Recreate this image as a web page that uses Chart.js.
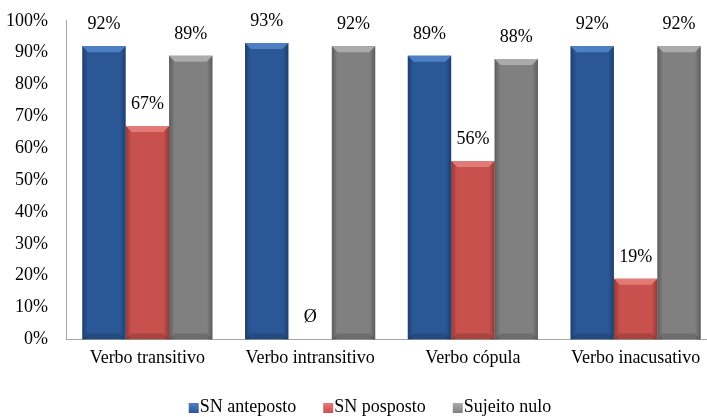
<!DOCTYPE html>
<html>
<head>
<meta charset="utf-8">
<script src="https://cdn.jsdelivr.net/npm/chart.js@4.4.1/dist/chart.umd.min.js"></script>
<style>
  html, body { margin: 0; padding: 0; background: #ffffff; overflow: hidden; }
  canvas { display: block; }
</style>
</head>
<body>
<canvas id="chart" width="740" height="417"></canvas>
<script>
const categories = ["Verbo transitivo", "Verbo intransitivo", "Verbo cópula", "Verbo inacusativo"];
const sn_anteposto = [92, 93, 89, 92];
const sn_posposto = [67, 0, 56, 19];
const sujeito_nulo = [89, 92, 88, 92];
const series_names = ["SN anteposto", "SN posposto", "Sujeito nulo"];

const bar_colours = ["#2B5797", "#C8504D", "#808080"];
const top_colours = ["#4C7FC4", "#E27B78", "#ABABAB"];
const font_family = "'Liberation Serif', 'Times New Roman', serif";

// bevel look of the old office bars
const bevelPlugin = {
  id: "bevel",
  afterDatasetsDraw(chart) {
    const ctx = chart.ctx;
    chart.data.datasets.forEach((ds, di) => {
      chart.getDatasetMeta(di).data.forEach(el => {
        const { x, y, base, width } = el.getProps(["x", "y", "base", "width"], true);
        const left = x - width / 2, right = x + width / 2, h = base - y;
        if (h <= 0) return;
        const b = Math.min(6, h / 2);
        ctx.save();
        const g = ctx.createLinearGradient(left, 0, right, 0);
        g.addColorStop(0, "rgba(0,0,0,0.28)");
        g.addColorStop(0.13, "rgba(0,0,0,0)");
        g.addColorStop(0.87, "rgba(0,0,0,0)");
        g.addColorStop(1, "rgba(0,0,0,0.28)");
        ctx.fillStyle = g;
        ctx.fillRect(left, y, width, h);
        ctx.fillStyle = top_colours[di];
        ctx.beginPath();
        ctx.moveTo(left, y); ctx.lineTo(right, y);
        ctx.lineTo(right - b, y + b); ctx.lineTo(left + b, y + b);
        ctx.closePath(); ctx.fill();
        ctx.fillStyle = "rgba(0,0,0,0.15)";
        ctx.beginPath();
        ctx.moveTo(left, base); ctx.lineTo(right, base);
        ctx.lineTo(right - b, base - b); ctx.lineTo(left + b, base - b);
        ctx.closePath(); ctx.fill();
        ctx.restore();
      });
    });
  }
};

const valueLabels = {
  id: "valueLabels",
  afterDatasetsDraw(chart) {
    const ctx = chart.ctx;
    ctx.save();
    ctx.font = "18px " + font_family;
    ctx.fillStyle = "#000000";
    ctx.textAlign = "center";
    ctx.textBaseline = "middle";
    chart.data.datasets.forEach((ds, di) => {
      chart.getDatasetMeta(di).data.forEach((el, i) => {
        const v = ds.data[i];
        ctx.fillText(v === 0 ? "Ø" : v + "%", el.x, el.y - 22);
      });
    });
    ctx.restore();
  }
};

const bottomLegend = {
  id: "bottomLegend",
  afterDraw(chart) {
    const ctx = chart.ctx;
    ctx.save();
    ctx.font = "18px " + font_family;
    const box = 10, gap = 1, spacing = 27;
    const widths = series_names.map(n => box + gap + ctx.measureText(n).width);
    const total = widths.reduce((a, b) => a + b, 0) + spacing * (widths.length - 1);
    let x = chart.width / 2 - total / 2;
    const yc = chart.height - 9;
    series_names.forEach((name, i) => {
      const g = ctx.createLinearGradient(0, yc - 5, 0, yc + 5);
      g.addColorStop(0, top_colours[i]);
      g.addColorStop(1, bar_colours[i]);
      ctx.fillStyle = g;
      ctx.fillRect(x, yc - 5, box, box);
      ctx.fillStyle = "#000000";
      ctx.textAlign = "left";
      ctx.textBaseline = "middle";
      ctx.fillText(name, x + box + gap, yc - 1);
      x += widths[i] + spacing;
    });
    ctx.restore();
  }
};

new Chart(document.getElementById("chart"), {
  type: "bar",
  data: {
    labels: categories,
    datasets: [
      { label: series_names[0], data: sn_anteposto, backgroundColor: bar_colours[0] },
      { label: series_names[1], data: sn_posposto, backgroundColor: bar_colours[1] },
      { label: series_names[2], data: sujeito_nulo, backgroundColor: bar_colours[2] }
    ]
  },
  options: {
    responsive: false,
    animation: false,
    categoryPercentage: 0.8,
    barPercentage: 1.0,
    layout: { padding: { top: 10, right: 23, bottom: 48, left: 0 } },
    plugins: {
      legend: { display: false },
      tooltip: { enabled: false }
    },
    scales: {
      x: {
        grid: { display: false },
        border: { color: "#A6A6A6" },
        ticks: { color: "#000000", font: { family: font_family, size: 18 }, padding: 0 }
      },
      y: {
        min: 0,
        max: 100,
        grid: { display: false },
        border: { color: "#A6A6A6" },
        afterFit: (s) => { s.width = 66; },
        ticks: {
          stepSize: 10,
          color: "#000000",
          padding: 10,
          font: { family: font_family, size: 18 },
          callback: (v) => v + "%"
        }
      }
    }
  },
  plugins: [bevelPlugin, valueLabels, bottomLegend]
});
</script>
</body>
</html>
